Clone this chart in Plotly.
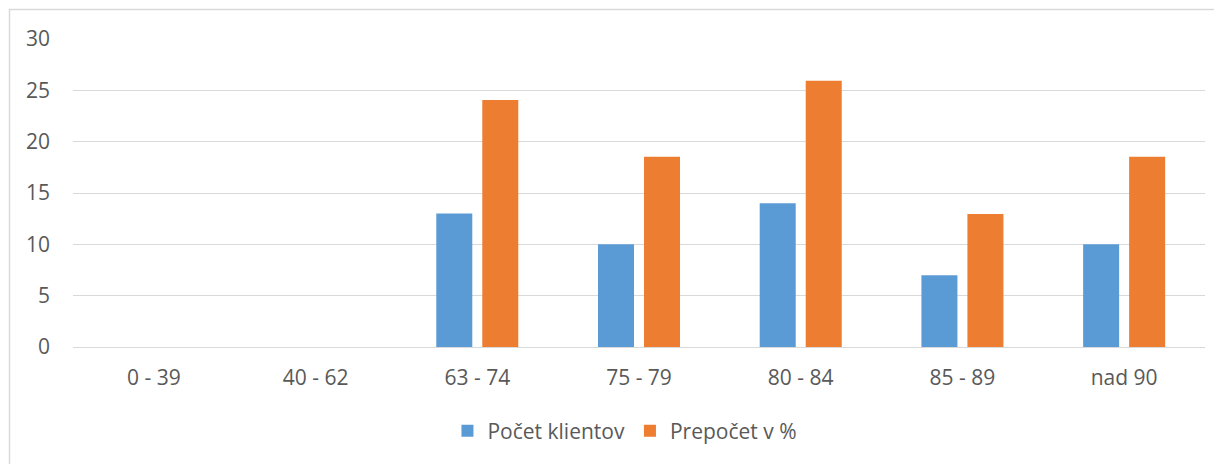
import plotly.graph_objects as go

categories = ["0 - 39", "40 - 62", "63 - 74", "75 - 79", "80 - 84", "85 - 89", "nad 90"]
pocet_klientov = [0, 0, 13, 10, 14, 7, 10]
prepocet_pct = [0, 0, 24.07, 18.52, 25.93, 12.96, 18.52]
y_ticks = [0, 5, 10, 15, 20, 25, 30]

FONT = "Open Sans"
TXT = "#595959"
FS = 21

# page body has an 8px margin, so the figure is offset by 8px right/down
L, T, PW, PH = 65, 31, 1132, 308

fig = go.Figure()
fig.add_trace(go.Bar(x=categories, y=pocet_klientov, name="Počet klientov",
                     marker=dict(color="#5B9BD5", line=dict(width=0))))
fig.add_trace(go.Bar(x=categories, y=prepocet_pct, name="Prepočet v %",
                     marker=dict(color="#ED7D31", line=dict(width=0))))

fig.update_layout(
    width=1214, height=456,
    margin=dict(l=L, r=1214 - L - PW, t=T, b=456 - T - PH),
    paper_bgcolor="white", plot_bgcolor="white",
    barmode="group", bargap=0.431, bargroupgap=0.217,
    font=dict(family=FONT, size=FS, color=TXT),
    showlegend=True,
    legend=dict(orientation="h", x=0.4876, xanchor="center", y=-0.273, yanchor="middle",
                font=dict(family=FONT, size=FS, color=TXT), itemwidth=30,
                traceorder="normal"),
    xaxis=dict(showgrid=False, showline=True, linecolor="#D9D9D9", linewidth=1,
               ticks="", ticklabelstandoff=12, tickfont=dict(size=FS, color=TXT)),
    yaxis=dict(range=[0, 30], tickvals=y_ticks, showgrid=True, gridcolor="#D9D9D9",
               gridwidth=1, zeroline=False, showline=False, ticks="",
               ticklabelstandoff=22, tickfont=dict(size=FS, color=TXT)),
    shapes=[dict(type="rect", xref="paper", yref="paper",
                 x0=(1.5 - L) / PW, x1=1.05, y0=-0.5, y1=1 + (T - 1.5) / PH,
                 line=dict(color="#D9D9D9", width=1.5), fillcolor="rgba(0,0,0,0)",
                 layer="below")],
)

fig.write_html("out.html")
